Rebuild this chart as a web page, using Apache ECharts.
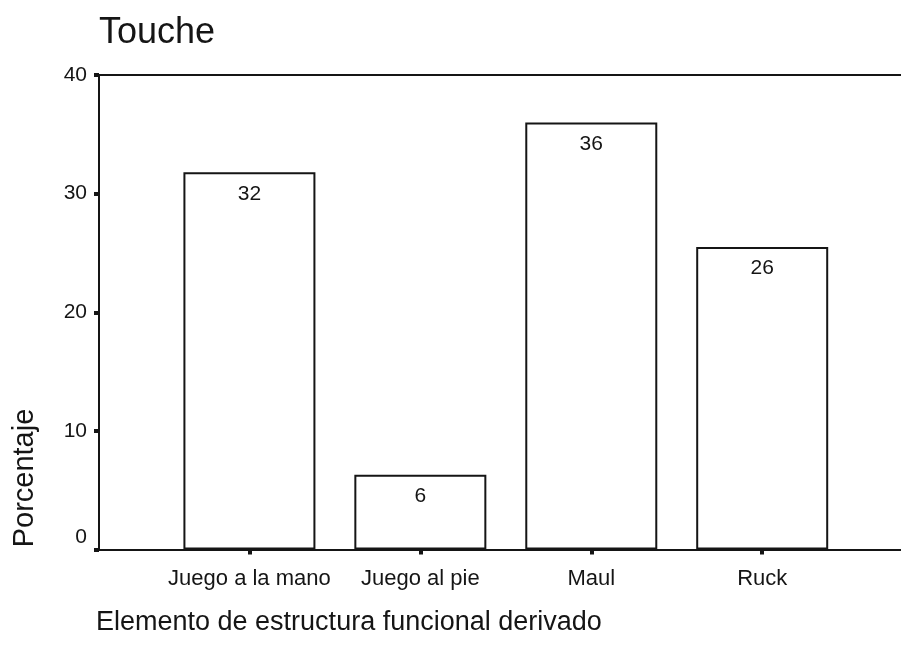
<!DOCTYPE html>
<html>
<head>
<meta charset="utf-8">
<script src="https://cdn.jsdelivr.net/npm/echarts@6/dist/echarts.min.js"></script>
<style>
html,body{margin:0;padding:0;background:#fff;}
#chart{width:901px;height:656px;}
</style>
</head>
<body>
<div id="chart"></div>
<script>
const categories = ['Juego a la mano', 'Juego al pie', 'Maul', 'Ruck'];
const percentages = [31.8, 6.3, 36.0, 25.5];
const yTicks = [0, 10, 20, 30, 40];
const chartTitle = 'Touche';
const xTitle = 'Elemento de estructura funcional derivado';
const yTitle = 'Porcentaje';

const FONT = '"Liberation Sans", Arial, sans-serif';
const INK = '#151515';
const idx = categories.map((c, i) => i);
const X_MIN = -0.880, X_MAX = 3.812;

const chart = echarts.init(document.getElementById('chart'), null, {renderer: 'canvas'});
chart.setOption({
  animation: false,
  backgroundColor: '#fff',
  title: [
    {text: chartTitle, left: 99, top: 15, padding: 0,
     textStyle: {fontFamily: FONT, fontSize: 36, fontWeight: 'normal', color: INK}},
    {text: xTitle, left: 96, top: 609, padding: 0,
     textStyle: {fontFamily: FONT, fontSize: 27, fontWeight: 'normal', color: INK}}
  ],
  graphic: [{
    type: 'text', x: 25, y: 478, rotation: Math.PI / 2,
    style: {text: yTitle, fontFamily: FONT, fontSize: 29, fill: INK,
            textAlign: 'center', textVerticalAlign: 'middle'}
  }],
  grid: {left: 99, top: 75, right: 0, bottom: 106.5, show: false},
  xAxis: [{
    type: 'value', min: X_MIN, max: X_MAX, position: 'bottom',
    axisLine: {show: true, onZero: false, lineStyle: {color: INK, width: 2}},
    axisTick: {show: true, customValues: idx, length: 5, inside: false,
               lineStyle: {color: INK, width: 4}},
    axisLabel: {show: true, customValues: idx, margin: 18,
                formatter: v => categories[Math.round(v)],
                fontFamily: FONT, fontSize: 22, color: INK},
    splitLine: {show: false}
  }, {
    type: 'value', min: X_MIN, max: X_MAX, position: 'top',
    axisLine: {show: true, onZero: false, lineStyle: {color: INK, width: 2}},
    axisTick: {show: false}, axisLabel: {show: false}, splitLine: {show: false}
  }],
  yAxis: {
    type: 'value', min: yTicks[0], max: yTicks[yTicks.length - 1], interval: 10,
    axisLine: {show: true, onZero: false, lineStyle: {color: INK, width: 2}},
    axisTick: {show: true, length: 5, lineStyle: {color: INK, width: 4}},
    axisLabel: {margin: 12, fontFamily: FONT, fontSize: 21, color: INK,
                formatter: v => v === yTicks[0] ? '{z|' + v + '}' : String(v),
                rich: {z: {fontFamily: FONT, fontSize: 21, color: INK, padding: [0, 0, 24, 0]}}},
    splitLine: {show: false}
  },
  series: [{
    type: 'bar',
    xAxisIndex: 0,
    data: percentages.map((v, i) => [i, v]),
    barWidth: 132,
    itemStyle: {color: '#fff', borderColor: INK, borderWidth: 2},
    label: {show: true, position: 'insideTop', distance: 11,
            formatter: p => Math.round(p.value[1]),
            fontFamily: FONT, fontSize: 21, color: INK}
  }]
});
</script>
</body>
</html>
